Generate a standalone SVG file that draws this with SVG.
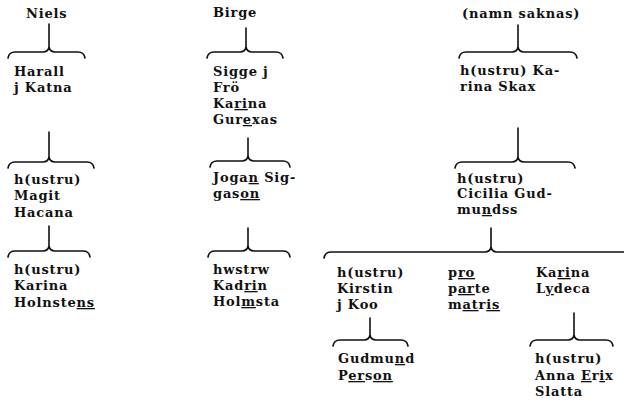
<svg xmlns="http://www.w3.org/2000/svg" width="624" height="404" viewBox="0 0 624 404">
<style>
text{font-family:"DejaVu Serif","Liberation Serif",serif;font-weight:bold;font-size:13px;letter-spacing:0.8px;fill:#111}
.u{text-decoration:underline}
.c path{fill:none;stroke:#111;stroke-width:1.6;stroke-linecap:round;stroke-linejoin:round}
</style>
<rect width="624" height="404" fill="#fff"/>
<g class="c" id="connectors">
<path d="M49,24V47 M8,58Q9,52 15,52H43Q48,52 49,47Q50,52 55,52H78Q84,52 85,58"/>
<path d="M49,132V157 M8,168Q9,162 15,162H43Q48,162 49,157Q50,162 55,162H87Q93,162 94,168"/>
<path d="M49,226V246 M8,257Q9,251 15,251H43Q48,251 49,246Q50,251 55,251H83Q89,251 90,257"/>
<path d="M246,28V47 M207,58Q208,52 214,52H240Q245,52 246,47Q247,52 252,52H276Q282,52 283,58"/>
<path d="M248,138V156 M210,167Q211,161 217,161H242Q247,161 248,156Q249,161 254,161H283Q289,161 290,167"/>
<path d="M248,228V246 M208,257Q209,251 215,251H242Q247,251 248,246Q249,251 254,251H283Q289,251 290,257"/>
<path d="M518,25V47 M459,58Q460,52 466,52H512Q517,52 518,47Q519,52 524,52H570Q576,52 577,58"/>
<path d="M518,128V157 M455,168Q456,162 462,162H512Q517,162 518,157Q519,162 524,162H568Q574,162 575,168"/>
<path d="M491,228V247 M324,258Q325,252 331,252H485Q490,252 491,247Q492,252 497,252H624"/>
<path d="M370,318V335 M333,346Q334,340 340,340H364Q369,340 370,335Q371,340 376,340H401Q407,340 408,346"/>
<path d="M574,313V335 M530,346Q531,340 537,340H568Q573,340 574,335Q575,340 580,340H606Q612,340 613,346"/>
</g>
<g id="niels"><text x="26" y="18">Niels</text></g>
<g id="harall"><text x="14" y="76">Harall</text><text x="14" y="92">j Katna</text></g>
<g id="magit"><text x="14" y="184">h(ustru)</text><text x="14" y="200">Magit</text><text x="14" y="217">Hacana</text></g>
<g id="karina-holnstens"><text x="14" y="274">h(ustru)</text><text x="14" y="290">Karina</text><text x="14" y="307">Holnste<tspan class="u">ns</tspan></text></g>
<g id="birge"><text x="213" y="17">Birge</text></g>
<g id="sigge"><text x="213" y="76">Sigge j</text><text x="213" y="92">Frö</text><text x="213" y="108">Ka<tspan class="u">ri</tspan>na</text><text x="213" y="124">Gur<tspan class="u">e</tspan>xas</text></g>
<g id="jogan"><text x="213" y="182">Joga<tspan class="u">n</tspan> Sig-</text><text x="213" y="198">gas<tspan class="u">on</tspan></text></g>
<g id="kadrin"><text x="213" y="274">hwstrw</text><text x="213" y="290">Kad<tspan class="u">ri</tspan>n</text><text x="213" y="306">Hol<tspan class="u">m</tspan>sta</text></g>
<g id="namn-saknas"><text x="462" y="18">(namn saknas)</text></g>
<g id="karina-skax"><text x="460" y="75">h(ustru) Ka-</text><text x="460" y="91">rina Skax</text></g>
<g id="cicilia"><text x="457" y="183">h(ustru)</text><text x="457" y="198">Cicilia Gud-</text><text x="457" y="214">mu<tspan class="u">n</tspan>dss</text></g>
<g id="kirstin"><text x="337" y="277">h(ustru)</text><text x="337" y="293">Kirstin</text><text x="337" y="309">j Koo</text></g>
<g id="pro-parte"><text x="448" y="277">p<tspan class="u">ro</tspan></text><text x="448" y="293">p<tspan class="u">ar</tspan>te</text><text x="448" y="309">m<tspan class="u">at</tspan>r<tspan class="u">is</tspan></text></g>
<g id="karina-lydeca"><text x="536" y="277">Ka<tspan class="u">ri</tspan>na</text><text x="536" y="293">L<tspan class="u">y</tspan>deca</text></g>
<g id="gudmund"><text x="338" y="363">Gudmu<tspan class="u">n</tspan>d</text><text x="338" y="380">P<tspan class="u">er</tspan>s<tspan class="u">on</tspan></text></g>
<g id="anna-erix"><text x="535" y="363">h(ustru)</text><text x="535" y="380">Anna <tspan class="u">E</tspan>r<tspan class="u">i</tspan>x</text><text x="535" y="396">Slatta</text></g>
</svg>
